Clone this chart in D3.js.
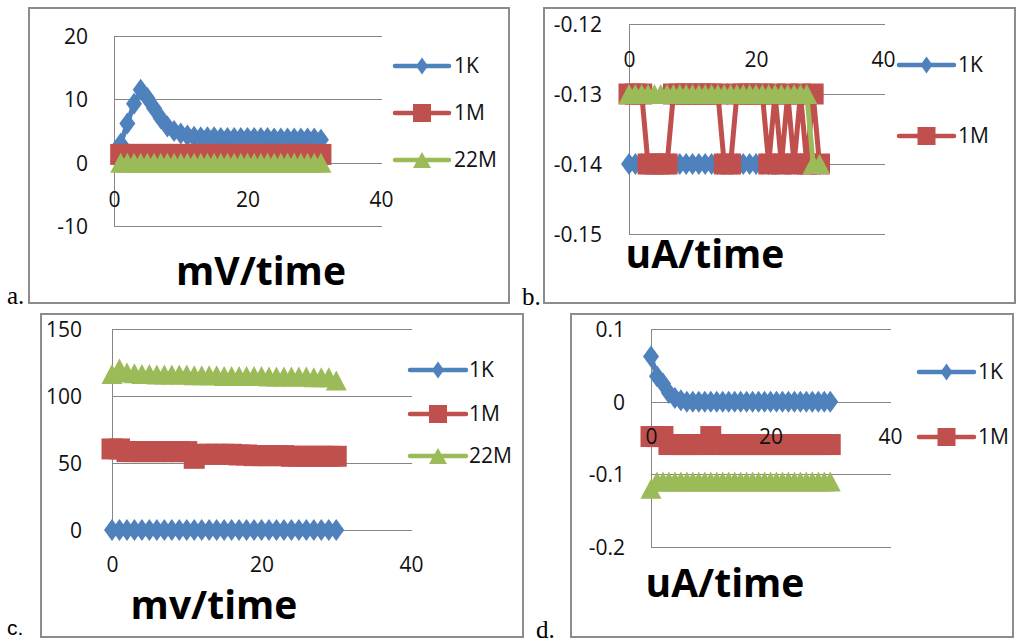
<!DOCTYPE html>
<html>
<head>
<meta charset="utf-8">
<script src="https://cdn.jsdelivr.net/npm/d3@7"></script>
<style>
  body { margin: 0; background: #fff; }
  svg { display: block; }
</style>
</head>
<body>
<svg id="sheet" width="1016" height="642"></svg>
<script>
/* four small excel-style line charts, 2x2 */

// a. mV/time
var timeA  = [1, 2, 3, 4, 5, 6, 7, 8, 9, 10, 11, 12, 13, 14, 15, 16, 17, 18, 19, 20, 21, 22, 23, 24, 25, 26, 27, 28, 29, 30, 31];
var mvA1K  = [3.0, 6.2, 9.3, 11.5, 10.2, 8.6, 7.0, 5.7, 5.0, 4.6, 4.3, 4.1, 4.0, 4.0, 4.0, 3.9, 3.9, 3.9, 3.9, 3.9, 3.9, 3.9, 3.9, 3.8, 3.8, 3.8, 3.8, 3.8, 3.8, 3.8, 3.6];
var mvA1M  = [1.3, 1.3, 1.3, 1.3, 1.3, 1.3, 1.3, 1.3, 1.3, 1.3, 1.3, 1.3, 1.3, 1.3, 1.3, 1.3, 1.3, 1.3, 1.3, 1.3, 1.3, 1.3, 1.3, 1.3, 1.3, 1.3, 1.3, 1.3, 1.3, 1.3, 1.3];
var mvA22M = [0, 0, 0, 0, 0, 0, 0, 0, 0, 0, 0, 0, 0, 0, 0, 0, 0, 0, 0, 0, 0, 0, 0, 0, 0, 0, 0, 0, 0, 0, 0];

// b. uA/time
var timeB  = [0, 1, 2, 3, 4, 5, 6, 7, 8, 9, 10, 11, 12, 13, 14, 15, 16, 17, 18, 19, 20, 21, 22, 23, 24, 25, 26, 27, 28, 29, 30];
var uaB1K  = [-0.14, -0.14, -0.14, -0.14, -0.14, -0.14, -0.14, -0.14, -0.14, -0.14, -0.14, -0.14, -0.14, -0.14, -0.14, -0.14, -0.14, -0.14, -0.14, -0.14, -0.14, -0.14, -0.14, -0.14, -0.14, -0.14, -0.14, -0.14, -0.14, -0.14, -0.14];
var uaB1M  = [-0.13, -0.13, -0.13, -0.14, -0.14, -0.14, -0.14, -0.13, -0.13, -0.13, -0.13, -0.13, -0.13, -0.13, -0.13, -0.14, -0.14, -0.13, -0.13, -0.13, -0.13, -0.13, -0.14, -0.13, -0.14, -0.13, -0.14, -0.13, -0.14, -0.13, -0.14];
var uaB22M = [-0.13, -0.13, -0.13, -0.13, -0.13, -0.13, -0.13, -0.13, -0.13, -0.13, -0.13, -0.13, -0.13, -0.13, -0.13, -0.13, -0.13, -0.13, -0.13, -0.13, -0.13, -0.13, -0.13, -0.13, -0.13, -0.13, -0.13, -0.13, -0.13, -0.14, -0.14];

// c. mv/time
var timeC  = [0, 1, 2, 3, 4, 5, 6, 7, 8, 9, 10, 11, 12, 13, 14, 15, 16, 17, 18, 19, 20, 21, 22, 23, 24, 25, 26, 27, 28, 29, 30];
var mvC1K  = [0, 0, 0, 0, 0, 0, 0, 0, 0, 0, 0, 0, 0, 0, 0, 0, 0, 0, 0, 0, 0, 0, 0, 0, 0, 0, 0, 0, 0, 0, 0];
var mvC1M  = [60.5, 60.5, 58.5, 58.5, 58.5, 58.5, 58.5, 58.5, 58.5, 58.5, 58.5, 53.5, 56.5, 56.5, 56.5, 56.5, 56.5, 56, 56, 55.5, 55.5, 55.5, 55.5, 55.5, 55, 55, 55, 55, 55, 55, 55];
var mvC22M = [116.5, 120.5, 117.5, 117, 116.5, 116.5, 116, 116, 116, 116, 116, 115.5, 115.5, 115.5, 115.5, 115, 115, 115, 115, 115, 115, 114.5, 114.5, 114.5, 114.5, 114.5, 114.5, 114, 114, 114, 111.5];

// d. uA/time
var timeD  = [0, 1, 2, 3, 4, 5, 6, 7, 8, 9, 10, 11, 12, 13, 14, 15, 16, 17, 18, 19, 20, 21, 22, 23, 24, 25, 26, 27, 28, 29, 30];
var uaD1K  = [0.062, 0.035, 0.025, 0.012, 0.005, 0.002, 0, 0, 0, 0, 0, 0, 0, 0, 0, 0, 0, 0, 0, 0, 0, 0, 0, 0, 0, 0, 0, 0, 0, 0, 0];
var uaD1M  = [-0.048, -0.048, -0.048, -0.059, -0.059, -0.059, -0.059, -0.059, -0.059, -0.059, -0.048, -0.059, -0.059, -0.059, -0.059, -0.059, -0.059, -0.059, -0.059, -0.059, -0.059, -0.059, -0.059, -0.059, -0.059, -0.059, -0.059, -0.059, -0.059, -0.059, -0.059];
var uaD22M = [-0.12, -0.11, -0.11, -0.11, -0.11, -0.11, -0.11, -0.11, -0.11, -0.11, -0.11, -0.11, -0.11, -0.11, -0.11, -0.11, -0.11, -0.11, -0.11, -0.11, -0.11, -0.11, -0.11, -0.11, -0.11, -0.11, -0.11, -0.11, -0.11, -0.11, -0.11];

var xTicks = [0, 20, 40];

var colors = { '1K': '#4F81BD', '1M': '#C0504D', '22M': '#9BBB59' };
var shapes = { '1K': 'diamond', '1M': 'square', '22M': 'triangle' };
var dataMarker   = { diamond: [16, 22], square: [21, 21], triangle: [21, 20] };
var legendMarker = { diamond: [12, 17], square: [18, 18], triangle: [18, 16] };

var FONT = "'Open Sans', 'DejaVu Sans', sans-serif";
var GRID = '#868686';

var svg = d3.select('#sheet');

function fmt(d) { return String(+d.toFixed(3)); }

function markerPath(shape, size) {
  var a = size[0] / 2, b = size[1] / 2;
  if (shape === 'diamond') {
    return 'M0,' + (-b) + 'L' + a + ',0L0,' + b + 'L' + (-a) + ',0Z';
  }
  if (shape === 'square') {
    return 'M' + (-a) + ',' + (-b) + 'H' + a + 'V' + b + 'H' + (-a) + 'Z';
  }
  return 'M0,' + (-b) + 'L' + a + ',' + b + 'L' + (-a) + ',' + b + 'Z';
}

var panels = [
  { label: 'a.', labelFont: "'Liberation Serif', serif", labelSize: 25, labelPos: [7, 304],
    title: 'mV/time', titlePos: [261, 285],
    box: [29, 8, 509, 303],
    plot: { left: 114, right: 382, top: 36, bottom: 226 }, xRange: [114, 381],
    yDomain: [-10, 20], yTicks: [-10, 0, 10, 20], cross: 0, yGap: 26, xGap: 37,
    time: timeA,
    series: [{ name: '1K', values: mvA1K }, { name: '1M', values: mvA1M }, { name: '22M', values: mvA22M }],
    legend: { x1: 395, x2: 449, tx: 454, ys: [66, 113, 160] } },

  { label: 'b.', labelFont: "'Liberation Serif', serif", labelSize: 25, labelPos: [522, 305],
    title: 'uA/time', titlePos: [705, 268],
    box: [544, 8, 1015, 303],
    plot: { left: 629, right: 885, top: 24, bottom: 234 }, xRange: [629, 883],
    yDomain: [-0.15, -0.12], yTicks: [-0.15, -0.14, -0.13, -0.12], cross: -0.12, yGap: 27, xGap: 36,
    time: timeB,
    series: [{ name: '1K', values: uaB1K }, { name: '1M', values: uaB1M }, { name: '22M', values: uaB22M }],
    legend: { x1: 899, x2: 954, tx: 958, ys: [65, 136] }, legendCount: 2 },

  { label: 'c.', labelFont: "'Liberation Sans', sans-serif", labelSize: 21, labelPos: [7, 635],
    title: 'mv/time', titlePos: [214, 619],
    box: [41, 314, 523, 637],
    plot: { left: 112, right: 412, top: 329, bottom: 530 }, xRange: [112, 411],
    yDomain: [0, 150], yTicks: [0, 50, 100, 150], cross: 0, yGap: 30, xGap: 35,
    time: timeC,
    series: [{ name: '1K', values: mvC1K }, { name: '1M', values: mvC1M }, { name: '22M', values: mvC22M }],
    legend: { x1: 410, x2: 466, tx: 469, ys: [370, 414, 456] } },

  { label: 'd.', labelFont: "'Liberation Serif', serif", labelSize: 25, labelPos: [536, 638],
    title: 'uA/time', titlePos: [725, 597],
    box: [571, 314, 1013, 637],
    plot: { left: 651, right: 891, top: 329, bottom: 547 }, xRange: [651, 890],
    yDomain: [-0.2, 0.1], yTicks: [-0.2, -0.1, 0, 0.1], cross: 0, yGap: 26, xGap: 35,
    time: timeD,
    series: [{ name: '1K', values: uaD1K }, { name: '1M', values: uaD1M }, { name: '22M', values: uaD22M }],
    legend: { x1: 919, x2: 974, tx: 978, ys: [372, 437] }, legendCount: 2 }
];

panels.forEach(drawPanel);

function drawPanel(p) {
  var g = svg.append('g');
  var x = d3.scaleLinear().domain([0, 40]).range(p.xRange);
  var y = d3.scaleLinear().domain(p.yDomain).range([p.plot.bottom, p.plot.top]);

  // chart border
  g.append('rect')
    .attr('x', p.box[0]).attr('y', p.box[1])
    .attr('width', p.box[2] - p.box[0]).attr('height', p.box[3] - p.box[1])
    .attr('fill', '#fff').attr('stroke', '#8c8c8c').attr('stroke-width', 2);

  // gridlines + vertical axis line
  g.append('g').selectAll('line').data(p.yTicks).join('line')
    .attr('x1', p.plot.left).attr('x2', p.plot.right)
    .attr('y1', function(d) { return Math.round(y(d)) + 0.5; })
    .attr('y2', function(d) { return Math.round(y(d)) + 0.5; })
    .attr('stroke', GRID).attr('stroke-width', 1);
  g.append('line')
    .attr('x1', p.plot.left + 0.5).attr('x2', p.plot.left + 0.5)
    .attr('y1', p.plot.top).attr('y2', p.plot.bottom)
    .attr('stroke', GRID).attr('stroke-width', 1);

  var line = d3.line()
    .x(function(d) { return x(d[0]); })
    .y(function(d) { return y(d[1]); });

  p.series.forEach(function(s) {
    var pts = p.time.map(function(t, i) { return [t, s.values[i]]; });
    var color = colors[s.name];
    g.append('path').datum(pts)
      .attr('d', line)
      .attr('fill', 'none').attr('stroke', color)
      .attr('stroke-width', 5).attr('stroke-linejoin', 'round');
    g.append('g').selectAll('path').data(pts).join('path')
      .attr('transform', function(d) { return 'translate(' + x(d[0]) + ',' + y(d[1]) + ')'; })
      .attr('d', markerPath(shapes[s.name], dataMarker[shapes[s.name]]))
      .attr('fill', color);
  });

  // tick labels, drawn over the series like excel does
  var yAxis = d3.axisLeft(y).tickValues(p.yTicks).tickSize(0).tickPadding(p.yGap).tickFormat(fmt);
  var ya = g.append('g').attr('transform', 'translate(' + p.plot.left + ',0)').call(yAxis);
  ya.select('.domain').remove();
  ya.selectAll('text').attr('font-family', FONT).attr('font-size', 21).attr('fill', '#111').attr('dy', '0.35em');

  var xAxis = d3.axisBottom(x).tickValues(xTicks).tickSize(0).tickFormat(fmt);
  var xa = g.append('g').attr('transform', 'translate(0,' + y(p.cross) + ')').call(xAxis);
  xa.select('.domain').remove();
  xa.selectAll('text').attr('font-family', FONT).attr('font-size', 21).attr('fill', '#111')
    .attr('y', p.xGap).attr('dy', '0.35em');

  // legend
  var items = p.series.slice(0, p.legendCount || p.series.length);
  var lg = g.append('g').selectAll('g').data(items).join('g')
    .attr('transform', function(d, i) { return 'translate(0,' + p.legend.ys[i] + ')'; });
  lg.append('line')
    .attr('x1', p.legend.x1).attr('x2', p.legend.x2)
    .attr('stroke', function(d) { return colors[d.name]; })
    .attr('stroke-width', 4.5).attr('stroke-linecap', 'round');
  lg.append('path')
    .attr('transform', 'translate(' + (p.legend.x1 + p.legend.x2) / 2 + ',0)')
    .attr('d', function(d) { return markerPath(shapes[d.name], legendMarker[shapes[d.name]]); })
    .attr('fill', function(d) { return colors[d.name]; });
  lg.append('text')
    .attr('x', p.legend.tx).attr('dy', '0.35em')
    .attr('font-family', FONT).attr('font-size', 21).attr('fill', '#111')
    .text(function(d) { return d.name; });

  // title and panel letter
  g.append('text')
    .attr('x', p.titlePos[0]).attr('y', p.titlePos[1])
    .attr('text-anchor', 'middle')
    .attr('font-family', FONT).attr('font-weight', 'bold').attr('font-size', 39)
    .text(p.title);
  svg.append('text')
    .attr('x', p.labelPos[0]).attr('y', p.labelPos[1])
    .attr('font-family', p.labelFont).attr('font-size', p.labelSize)
    .text(p.label);
}
</script>
</body>
</html>
